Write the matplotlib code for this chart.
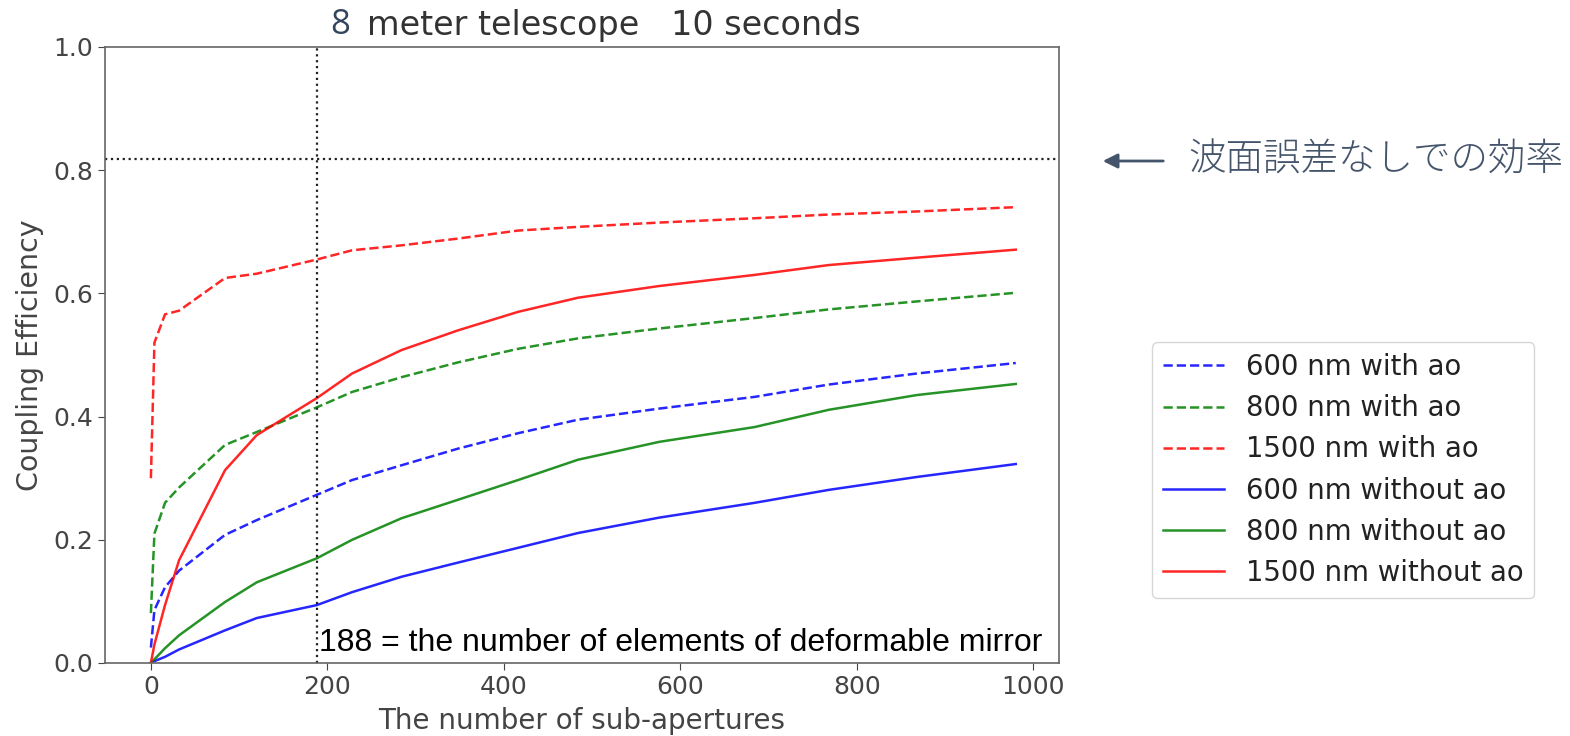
import numpy as np
from matplotlib import pyplot as plt

# number of sub-apertures
n_sub = [0, 4, 16, 32, 84, 120, 188, 228, 284, 348, 416, 484, 576, 684, 768, 868, 980]

# coupling efficiency, with ao
ce_600_ao = [0.025, 0.086, 0.123, 0.150, 0.208, 0.232, 0.273, 0.297, 0.321, 0.348,
             0.373, 0.395, 0.413, 0.432, 0.452, 0.470, 0.487]
ce_800_ao = [0.081, 0.210, 0.260, 0.285, 0.354, 0.375, 0.415, 0.440, 0.464, 0.488,
             0.510, 0.527, 0.543, 0.560, 0.574, 0.587, 0.601]
ce_1500_ao = [0.300, 0.520, 0.566, 0.572, 0.625, 0.632, 0.655, 0.670, 0.678, 0.689,
              0.702, 0.708, 0.715, 0.722, 0.728, 0.733, 0.740]

# coupling efficiency, without ao
ce_600 = [0.0, 0.003, 0.010, 0.022, 0.053, 0.073, 0.094, 0.115, 0.140, 0.163,
          0.187, 0.211, 0.236, 0.260, 0.281, 0.302, 0.323]
ce_800 = [0.0, 0.006, 0.024, 0.045, 0.099, 0.131, 0.170, 0.200, 0.235, 0.265,
          0.297, 0.330, 0.359, 0.383, 0.411, 0.435, 0.453]
ce_1500 = [0.0, 0.030, 0.094, 0.167, 0.313, 0.370, 0.430, 0.470, 0.508, 0.540,
           0.570, 0.593, 0.612, 0.630, 0.646, 0.658, 0.671]

ce_no_error = 0.818
dm_elements = 188

W, H = 1570, 736
fig = plt.figure(figsize=(W / 100, H / 100), dpi=100)
ax = fig.add_axes([105 / W, 1 - 663 / H, 954 / W, 616 / H])

lw = 1.8
a = 0.85
ax.plot(n_sub, ce_600_ao, 'b--', lw=lw, alpha=a, label='600 nm with ao')
ax.plot(n_sub, ce_800_ao, 'g--', lw=lw, alpha=a, label='800 nm with ao')
ax.plot(n_sub, ce_1500_ao, 'r--', lw=lw, alpha=a, label='1500 nm with ao')
ax.plot(n_sub, ce_600, 'b-', lw=lw, alpha=a, label='600 nm without ao')
ax.plot(n_sub, ce_800, 'g-', lw=lw, alpha=a, label='800 nm without ao')
ax.plot(n_sub, ce_1500, 'r-', lw=lw, alpha=a, label='1500 nm without ao')

ax.axhline(ce_no_error, color='#222222', ls=':', lw=1.6)
ax.axvline(dm_elements, color='#222222', ls=':', lw=1.6)

ax.text(dm_elements + 2, 0.02, '188 = the number of elements of deformable mirror',
        family='Liberation Sans', fontsize=23, color='black', va='baseline')

ax.set_xlim(-52, 1029)
ax.set_ylim(0, 1.0)
ax.set_xticks([0, 200, 400, 600, 800, 1000])
ax.set_yticks([0.0, 0.2, 0.4, 0.6, 0.8, 1.0])
ax.tick_params(labelsize=18, colors='#444444', length=5)
for s in ax.spines.values():
    s.set_color('#666666')
    s.set_linewidth(1.2)

ax.set_xlabel('The number of sub-apertures', fontsize=20, color='#444444', labelpad=6)
ax.set_ylabel('Coupling Efficiency', fontsize=20.5, color='#444444', labelpad=7)

# title (the "8" looks pasted in a different colour)
fig.text(330 / W, 1 - 25 / H, '8', fontsize=25, color='#34465c',
         family='Open Sans', va='center', ha='left')
fig.text(367 / W, 1 - 25 / H, 'meter telescope   10 seconds', fontsize=24,
         color='#333333', va='center', ha='left')

leg = ax.legend(loc='upper left', bbox_to_anchor=(1152 / W, 1 - 342 / H),
                bbox_transform=fig.transFigure, borderaxespad=0, fontsize=19.8,
                handlelength=2.2, labelspacing=0.48, frameon=True)
leg.get_frame().set_edgecolor('#cccccc')
for t in leg.get_texts():
    t.set_color('#222222')

# note on the right
jp = '#44546a'
fig.text(1188 / W, 1 - 160 / H, '波面誤差なしでの効率', fontsize=27, color=jp,
         family=['Noto Sans CJK JP', 'DejaVu Sans'], weight='light', va='center', ha='left')
ax.annotate('', xy=(1100 / W, 1 - 161 / H), xytext=(1166 / W, 1 - 161 / H),
            xycoords='figure fraction', textcoords='figure fraction',
            arrowprops=dict(arrowstyle='-|>', color=jp, lw=2, mutation_scale=22))

plt.savefig('out.png', dpi=100)
